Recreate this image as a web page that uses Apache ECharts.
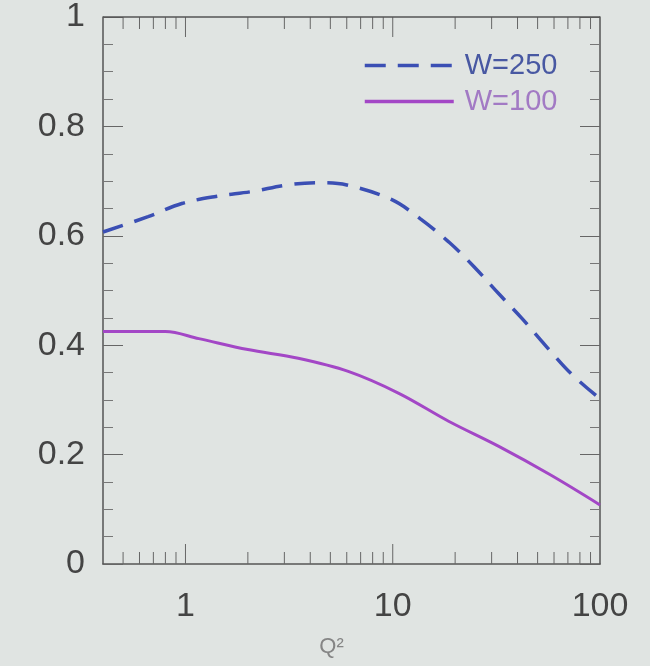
<!DOCTYPE html>
<html>
<head>
<meta charset="utf-8">
<script src="https://cdn.jsdelivr.net/npm/echarts@6/dist/echarts.min.js"></script>
<style>
html,body{margin:0;padding:0;background:#e0e4e2;}
#c{width:650px;height:666px;}
</style>
</head>
<body>
<div id="c"></div>
<script>
// Data
const q2W250 = [0.4, 0.66, 0.96, 1.4, 2.1, 3.1, 4.5, 6.0, 9.9, 13.6, 18.6, 24.6, 32.5, 42, 55, 73, 100];
const w250   = [0.607, 0.635, 0.659, 0.672, 0.681, 0.693, 0.697, 0.693, 0.666, 0.631, 0.589, 0.544, 0.494, 0.449, 0.398, 0.347, 0.302];
const q2W100 = [0.4, 0.8, 1.16, 2.0, 3.5, 6.1, 10.7, 18.6, 32.5, 57, 100];
const w100   = [0.425, 0.425, 0.412, 0.392, 0.376, 0.352, 0.312, 0.261, 0.215, 0.164, 0.108];
const xMajorLabels = [1, 10, 100];
const xMajorTicks = [1, 10];
const xMinorTicks = [0.5,0.6,0.7,0.8,0.9, 2,3,4,5,6,7,8,9, 20,30,40,50,60,70,80,90];
const seriesNames = ['W=250', 'W=100'];

const axisCol = '#555';
const FONT = 'Liberation Sans, Arial, sans-serif';
const chart = echarts.init(document.getElementById('c'));

const yBase = {
  type: 'value', min: 0, max: 1, interval: 0.2,
  axisLine: {show: true, onZero: false, lineStyle: {color: axisCol, width: 1.5}},
  axisTick: {show: true, inside: true, length: 20, lineStyle: {color: '#666', width: 1}},
  minorTick: {show: true, splitNumber: 4, length: 10, lineStyle: {color: '#777', width: 1}},
  splitLine: {show: false}
};

// x-axis ticks (major + minor) on bottom and top, drawn through the axis scale
const xTickData = xMajorTicks.map(v => [v, 20]).concat(xMinorTicks.map(v => [v, 12]));

chart.setOption({
  backgroundColor: '#e0e4e2',
  animation: false,
  grid: {left: 103, right: 50, top: 17, bottom: 102, outerBoundsMode: 'none'},
  legend: {
    orient: 'vertical', left: 358, top: 46,
    itemWidth: 89, itemHeight: 14, itemGap: 7,
    itemStyle: {opacity: 0},
    lineStyle: {width: 3.5},
    textStyle: {fontSize: 29, fontFamily: FONT, padding: [0,0,0,6]},
    data: [
      {name: seriesNames[0], textStyle: {color: '#4858a2'}},
      {name: seriesNames[1], textStyle: {color: '#a27ac4'}}
    ]
  },
  xAxis: {
    type: 'log', logBase: 10, min: 0.4, max: 100, position: 'bottom',
    axisLine: {show: true, onZero: false, lineStyle: {color: axisCol, width: 1.5}},
    axisTick: {show: false},
    splitLine: {show: false},
    name: 'Q\u00B2', nameLocation: 'middle', nameGap: 72,
    nameTextStyle: {fontSize: 22, color: '#858585', fontFamily: FONT, padding: [0, 40, 0, 0]},
    axisLabel: {
      show: true, margin: 26, fontSize: 34, color: '#444',
      fontFamily: FONT,
      formatter: function (v) {
        for (const m of xMajorLabels) { if (Math.abs(v - m) < 1e-6 * m) return String(m); }
        return '';
      }
    }
  },
  yAxis: [
    Object.assign({}, yBase, {
      position: 'left',
      axisLabel: {show: true, margin: 18, fontSize: 34, color: '#444', fontFamily: FONT}
    }),
    Object.assign({}, yBase, {position: 'right', axisLabel: {show: false}})
  ],
  series: [
    {
      name: seriesNames[0], type: 'line', smooth: 0.35, symbol: 'none',
      lineStyle: {color: '#3b4fb4', width: 3.5, type: [21, 12]},
      itemStyle: {color: '#3b4fb4'},
      data: q2W250.map((x, i) => [x, w250[i]])
    },
    {
      name: seriesNames[1], type: 'line', smooth: 0.35, symbol: 'none',
      lineStyle: {color: '#a347c6', width: 3},
      itemStyle: {color: '#a347c6'},
      data: q2W100.map((x, i) => [x, w100[i]])
    },
    {
      name: 'xTicks', type: 'custom', silent: true, clip: false, z: 10,
      renderItem: function (params, api) {
        const x = api.value(0);
        const len = api.value(1);
        const pb = api.coord([x, 0]);
        const pt = api.coord([x, 1]);
        const st = {stroke: '#666', lineWidth: 1};
        return {
          type: 'group',
          children: [
            {type: 'line', shape: {x1: pb[0], y1: pb[1], x2: pb[0], y2: pb[1] - len}, style: st},
            {type: 'line', shape: {x1: pt[0], y1: pt[1], x2: pt[0], y2: pt[1] + len}, style: st}
          ]
        };
      },
      data: xTickData
    },
    {
      name: 'topFrame', type: 'custom', silent: true, clip: false, z: 10,
      renderItem: function (params, api) {
        const a = api.coord([0.4, 1]);
        const b = api.coord([100, 1]);
        return {type: 'line', shape: {x1: a[0], y1: a[1], x2: b[0], y2: b[1]}, style: {stroke: axisCol, lineWidth: 1.5}};
      },
      data: [[0.4, 1]]
    }
  ]
});
</script>
</body>
</html>
